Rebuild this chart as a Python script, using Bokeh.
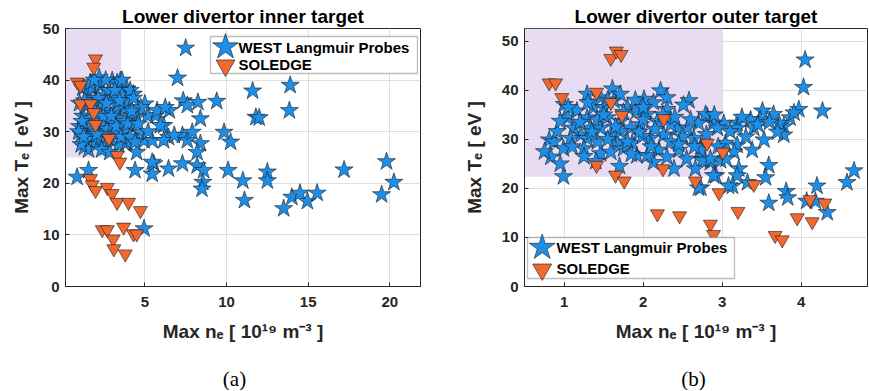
from bokeh.plotting import figure
from bokeh.models import Range1d, FixedTicker, BoxAnnotation, Label
from bokeh.layouts import row, column
from bokeh.embed import file_html
from bokeh.resources import INLINE

# ---------------- data ----------------
inner_west = [
    (7.5, 46.2), (7.0, 40.4), (7.35, 36.0), (7.6, 35.1), (8.25, 35.7), (9.4, 35.9),
    (8.4, 32.5), (6.5, 34.1), (6.15, 31.2), (5.65, 33.1), (5.15, 33.1), (5.0, 35.4),
    (5.75, 34.1), (6.45, 28.9), (7.3, 29.3), (7.6, 28.3), (7.9, 29.9), (8.4, 27.7),
    (8.2, 26.0), (7.3, 23.8), (8.2, 23.4), (8.6, 22.5), (8.55, 20.2), (8.5, 18.9),
    (9.85, 29.9), (10.25, 28.0), (10.1, 22.5), (11.0, 20.5), (11.1, 16.7), (11.6, 37.9),
    (11.8, 32.8), (12.0, 32.7), (12.5, 22.2), (12.5, 20.5), (13.5, 15.1), (13.9, 39.0),
    (13.85, 34.1), (14.0, 17.3), (14.5, 18.1), (14.95, 16.5), (15.55, 18.1), (17.2, 22.6),
    (19.8, 24.2), (20.25, 20.2), (19.5, 17.8), (4.4, 22.5), (5.45, 21.8), (5.55, 23.8),
    (4.5, 26.0), (0.85, 21.2), (1.55, 22.5), (4.95, 11.2), (3.9, 38.3), (4.3, 37.3),
    (4.75, 34.7), (4.5, 32.8), (4.1, 33.5), (4.2, 30.9), (4.75, 29.9), (4.95, 28.3),
    (5.45, 28.3), (6.15, 28.3), (3.8, 27.7), (5.45, 24.1), (6.45, 22.8), (6.8, 29.3),
    (5.95, 31.2), (6.25, 34.7), (3.0, 39.9), (3.5, 39.9), (1.68, 39.3), (2.18, 39.9),
    (1.0, 31.0), (1.1, 29.5), (1.2, 33.0), (1.3, 27.0), (1.35, 35.0), (1.4, 30.5),
    (1.5, 37.5), (1.55, 26.5), (1.6, 32.5), (1.7, 28.5), (1.75, 34.5), (1.8, 38.5),
    (1.9, 30.0), (1.95, 36.0), (2.0, 27.5), (2.1, 33.5), (2.2, 39.0), (2.25, 31.0),
    (2.3, 29.0), (2.4, 35.5), (2.5, 37.0), (2.55, 32.0), (2.6, 27.0), (2.7, 30.5),
    (2.75, 34.0), (2.8, 38.0), (2.9, 28.5), (3.0, 36.5), (3.05, 31.5), (3.1, 33.5),
    (3.2, 29.5), (3.3, 39.5), (3.35, 35.0), (3.4, 27.5), (3.5, 32.5), (3.6, 37.0),
    (3.7, 30.0), (3.8, 34.5), (3.9, 28.0), (4.0, 36.0), (1.2, 38.5), (1.3, 36.0),
    (1.45, 28.5), (1.65, 39.5), (1.85, 31.5), (2.05, 29.5), (2.15, 36.5), (2.35, 26.5),
    (2.45, 33.0), (2.65, 35.5), (2.85, 26.0), (2.95, 33.0), (3.15, 38.0), (3.25, 31.0),
    (3.45, 36.0), (3.55, 29.0), (3.75, 32.0), (3.95, 31.5), (4.1, 29.0), (4.2, 34.0),
    (1.0, 35.5), (1.1, 27.5), (1.15, 32.0), (0.95, 30.0), (1.25, 29.0), (2.2, 40.5),
    (2.6, 40.0), (1.9, 40.0), (3.6, 40.0), (4.1, 38.0), (4.3, 36.5), (4.6, 31.5),
    (4.4, 28.0), (5.2, 30.0),
]
inner_soledge = [
    (1.98, 44.1), (1.87, 42.5), (0.86, 39.6), (1.06, 39.0), (1.06, 35.4), (1.67, 35.4),
    (1.87, 33.7), (1.98, 31.4), (2.8, 28.7), (3.3, 25.4), (3.47, 24.1), (1.67, 20.9),
    (1.78, 19.7), (1.98, 18.6), (2.7, 19.2), (3.0, 18.0), (3.3, 16.3), (4.0, 16.3),
    (4.73, 14.7), (2.39, 11.0), (2.7, 11.0), (3.7, 11.5), (4.3, 10.2), (4.5, 10.2),
    (3.06, 9.2), (3.1, 7.3), (3.8, 6.3),
]
outer_west = [
    (4.05, 46.2), (4.03, 40.6), (4.27, 35.8), (3.97, 36.1), (4.67, 23.6), (4.58, 21.2),
    (4.2, 20.5), (4.33, 15.1), (4.18, 17.4), (4.07, 17.4), (3.81, 19.4), (3.83, 18.1),
    (3.59, 17.0), (3.59, 24.7), (3.55, 22.2), (3.38, 27.8), (3.53, 29.9), (3.32, 21.2),
    (3.21, 24.0), (3.19, 22.6), (3.13, 20.5), (3.19, 28.8), (3.15, 27.4), (3.08, 20.5),
    (2.92, 22.6), (2.85, 25.3), (2.77, 26.0), (2.73, 20.1), (3.78, 32.6), (3.78, 30.9),
    (3.86, 34.4), (3.72, 33.3), (3.65, 35.1), (3.51, 35.8), (3.48, 34.0), (3.4, 32.3),
    (3.36, 34.0), (3.19, 33.3), (3.19, 32.3), (3.02, 33.3), (2.89, 33.3), (2.81, 34.7),
    (3.91, 35.4), (3.04, 29.2), (3.1, 31.6), (2.98, 25.7), (2.73, 28.5),
    (0.99, 22.4), (0.83, 26.4), (0.81, 29.9), (0.87, 29.5), (1.0, 37.1), (1.29, 39.2),
    (1.61, 40.3), (2.22, 39.9), (2.58, 37.9), (2.51, 37.0), (2.3, 36.1), (2.13, 37.5),
    (2.01, 38.2), (2.79, 35.1), (2.7, 33.3), (2.94, 32.3), (2.64, 30.2), (2.45, 27.8),
    (2.39, 24.0), (2.13, 25.3), (2.2, 27.8), (1.92, 26.7), (1.86, 29.2), (2.09, 30.2),
    (2.26, 30.9), (2.43, 32.3), (2.35, 33.0), (2.56, 32.3), (2.75, 25.7), (2.66, 24.0),
    (2.7, 20.1), (2.89, 22.6), (2.85, 26.0), (1.46, 27.1), (1.42, 29.5), (1.67, 29.2),
    (1.75, 28.1), (1.59, 30.9), (1.21, 30.9), (1.12, 32.3), (1.04, 34.4), (1.16, 35.8),
    (1.29, 34.4), (1.37, 36.5), (1.5, 36.5), (1.46, 38.5), (1.63, 37.9), (1.71, 39.2),
    (1.54, 34.4), (1.71, 33.7), (1.84, 32.3), (1.92, 35.8), (1.8, 36.5), (2.05, 35.1),
    (1.97, 33.0), (2.18, 33.7), (1.29, 30.2), (0.99, 28.1), (0.91, 31.6), (1.08, 30.2),
    (1.33, 32.3), (1.46, 32.3), (1.42, 34.0), (1.25, 28.1), (1.59, 27.4), (2.3, 26.4),
    (2.05, 26.7), (1.99, 30.6), (1.71, 31.6), (0.95, 33.7), (2.73, 27.8),
    (1.05, 36.5), (1.2, 33.5), (1.3, 37.5), (1.35, 31.5), (1.5, 35.0), (1.55, 30.0),
    (1.65, 32.5), (1.75, 35.5), (1.8, 29.5), (1.9, 38.0), (1.95, 31.5), (2.0, 34.0),
    (2.1, 28.5), (2.15, 32.0), (2.25, 35.0), (2.35, 29.5), (2.4, 34.5), (2.5, 30.5),
    (2.6, 34.0), (2.65, 28.5), (2.8, 31.0), (2.9, 35.0), (1.1, 28.5), (1.4, 25.5),
    (1.55, 38.0), (1.85, 27.0), (2.0, 36.5), (2.3, 38.5), (2.55, 26.0), (0.75, 27.5),
    (0.95, 25.0), (1.25, 26.5), (1.7, 24.5), (2.45, 29.0), (3.25, 34.5), (3.45, 33.0),
    (3.6, 33.5), (3.7, 31.5), (3.3, 30.5), (3.05, 26.0), (2.95, 28.5),
]
outer_soledge = [
    (1.59, 46.5), (1.66, 48.0), (1.72, 47.3), (0.81, 41.5), (0.89, 41.5), (0.97, 38.5),
    (1.41, 39.6), (1.59, 37.5), (1.73, 34.9), (2.26, 34.2), (1.41, 24.7), (1.65, 22.7),
    (1.76, 21.5), (2.25, 24.0), (2.18, 14.8), (2.46, 14.4), (2.66, 21.5), (2.81, 29.2),
    (2.85, 12.7), (2.89, 10.6), (3.01, 27.4), (2.96, 19.1), (3.2, 15.3), (3.4, 20.8),
    (3.95, 14.0), (4.14, 13.2), (4.11, 17.7), (4.3, 17.0), (3.67, 10.4), (3.76, 9.5),
]

inner_ne_ticks = [5, 10, 15, 20]
outer_ne_ticks = [1, 2, 3, 4]
te_ticks = [0, 10, 20, 30, 40, 50]

inner_ne_range = (0.14, 21.88)
inner_te_range = (0.0, 50.0)
outer_ne_range = (0.497, 4.84)
outer_te_range = (0.0, 52.6)

inner_shade_ne_max, inner_shade_te_min = 3.55, 25.0
outer_shade_ne_max, outer_shade_te_min = 3.0, 22.4

titles = ["Lower divertor inner target", "Lower divertor outer target"]
captions = ["(a)", "(b)"]
series_names = ["WEST Langmuir Probes", "SOLEDGE"]
x_label = "Max n\u2091 [ 10\u00b9\u2079 m\u207b\u00b3 ]"
y_label = "Max T\u2091 [ eV ]"

# ---------------- style ----------------
FONT = "Liberation Sans"
STAR_FILL = "#1e8fe8"
TRI_FILL = "#f2682f"
EDGE = "#1a1a1a"
DARK = "#262626"
SHADE = "#e6d8f2"


def panel(west, sol, xr, yr, xticks, shade_x, shade_y, title,
          width, height, bl, br, bt, bb, legend_px, ylab_standoff):
    p = figure(width=width, height=height, x_range=Range1d(*xr), y_range=Range1d(*yr),
               output_backend="svg", toolbar_location=None,
               min_border_left=bl, min_border_right=br, min_border_top=bt,
               min_border_bottom=bb, title=title)
    fw = width - bl - br
    fh = height - bt - bb

    def xd(px):
        return xr[0] + px * (xr[1] - xr[0]) / fw

    def yd(py):
        return yr[1] - py * (yr[1] - yr[0]) / fh

    p.title.align = "center"
    p.title.text_font = FONT
    p.title.text_font_size = "19px"
    p.title.text_font_style = "bold"
    p.title.text_color = "black"
    p.title.standoff = 3

    p.outline_line_color = DARK
    p.outline_line_width = 1
    for ax in (p.xaxis[0], p.yaxis[0]):
        ax.axis_line_color = DARK
        ax.major_tick_in = 4
        ax.major_tick_out = 0
        ax.minor_tick_line_color = None
        ax.major_tick_line_color = DARK
        ax.major_label_text_font = FONT
        ax.major_label_text_font_style = "bold"
        ax.major_label_text_font_size = "15px"
        ax.major_label_text_color = DARK
        ax.axis_label_text_font = FONT
        ax.axis_label_text_font_style = "bold"
        ax.axis_label_text_font_size = "19px"
        ax.axis_label_text_color = DARK
    p.xaxis[0].ticker = FixedTicker(ticks=xticks)
    p.yaxis[0].ticker = FixedTicker(ticks=te_ticks)
    p.xaxis[0].axis_label = x_label
    p.yaxis[0].axis_label = y_label
    p.xaxis[0].major_label_standoff = 10
    p.yaxis[0].major_label_standoff = 6
    p.xaxis[0].axis_label_standoff = 11
    p.yaxis[0].axis_label_standoff = ylab_standoff
    p.grid.grid_line_color = "#dedede"
    p.grid.grid_line_width = 1

    p.add_layout(BoxAnnotation(right=shade_x, bottom=shade_y, fill_color=SHADE,
                               fill_alpha=0.9, line_color=None, level="underlay"))

    p.scatter([a for a, b in west], [b for a, b in west], marker="star", size=19,
              fill_color=STAR_FILL, line_color=EDGE, line_width=0.6)
    p.scatter([a for a, b in sol], [b for a, b in sol], marker="inverted_triangle", size=14,
              fill_color=TRI_FILL, line_color=EDGE, line_width=0.6)

    # legend drawn by hand (large markers like the original)
    (l, t, r, b), icon_x, y1, y2, text_x = legend_px
    p.add_layout(BoxAnnotation(left=xd(l), right=xd(r), top=yd(t), bottom=yd(b),
                               fill_color="white", fill_alpha=1, line_color=DARK,
                               line_width=1.3))
    p.scatter([xd(icon_x)], [yd(y1)], marker="star", size=27, fill_color=STAR_FILL,
              line_color=EDGE, line_width=0.6, level="overlay")
    p.scatter([xd(icon_x)], [yd(y2 + 1)], marker="inverted_triangle", size=19,
              fill_color=TRI_FILL, line_color=EDGE, line_width=0.6, level="overlay")
    for name, yy in zip(series_names, (y1, y2)):
        p.add_layout(Label(x=xd(text_x), y=yd(yy), text=name, text_baseline="middle",
                           text_font=FONT, text_font_style="bold", text_font_size="15px",
                           text_color="black", level="overlay"))
    return p


p1 = panel(inner_west, inner_soledge, inner_ne_range, inner_te_range, inner_ne_ticks,
           inner_shade_ne_max, inner_shade_te_min, titles[0],
           width=448, height=358, bl=65, br=28, bt=28, bb=72,
           legend_px=((145, 8, 352, 45), 160, 18.5, 36, 173), ylab_standoff=8)
p2 = panel(outer_west, outer_soledge, outer_ne_range, outer_te_range, outer_ne_ticks,
           outer_shade_ne_max, outer_shade_te_min, titles[1],
           width=420, height=358, bl=76, br=1, bt=28, bb=72,
           legend_px=((3, 209, 210, 250), 17.7, 219, 240, 32), ylab_standoff=14)

# caption strip under both panels: (a) and (b)
STRIP_W, STRIP_H = 868, 32
strip = figure(width=STRIP_W, height=STRIP_H, x_range=Range1d(0, STRIP_W),
               y_range=Range1d(0, STRIP_H), output_backend="svg", toolbar_location=None,
               x_axis_location=None, y_axis_location=None, min_border=0)
strip.outline_line_color = None
strip.grid.visible = False
for cap, cx in zip(captions, (234, 693)):
    strip.add_layout(Label(x=cx, y=STRIP_H - 20, text=cap, text_align="center",
                           text_baseline="middle", text_font="Liberation Serif",
                           text_font_size="21px", text_color="black"))

layout = column(row(p1, p2), strip)
open("out.html", "w").write(file_html(layout, INLINE))
